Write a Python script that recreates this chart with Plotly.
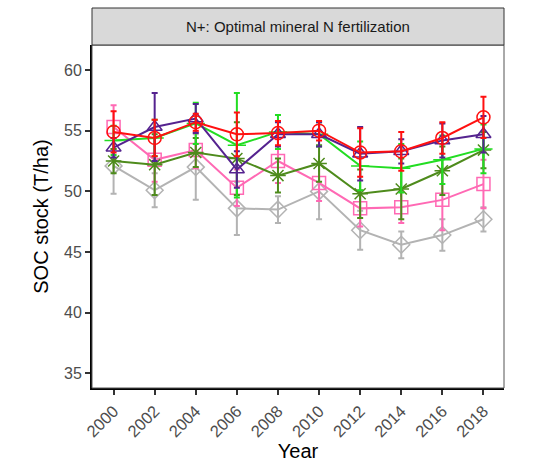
import plotly.graph_objects as go

years = [2000, 2002, 2004, 2006, 2008, 2010, 2012, 2014, 2016, 2018]

red_vals = [54.9, 54.4, 55.7, 54.7, 54.8, 55.0, 53.2, 53.3, 54.4, 56.1]
red_err = [1.7, 1.5, 0.7, 1.8, 1.0, 0.8, 2.0, 1.6, 1.3, 1.7]

purple_vals = [53.6, 55.3, 56.0, 51.8, 54.7, 54.7, 53.1, 53.3, 54.2, 54.7]
purple_err = [0.8, 2.8, 1.2, 1.5, 1.0, 1.0, 2.2, 1.0, 1.4, 1.5]

green_vals = [54.2, 54.4, 55.6, 53.8, 54.9, 54.7, 52.1, 51.9, 52.6, 53.5]
green_err = [1.2, 1.5, 1.7, 4.3, 1.4, 1.0, 2.0, 2.0, 2.0, 2.0]

olive_vals = [52.5, 52.2, 53.2, 52.7, 51.3, 52.3, 49.8, 50.2, 51.7, 53.4]
olive_err = [1.0, 2.5, 1.2, 3.0, 1.4, 1.5, 2.0, 2.5, 2.0, 1.5]

pink_vals = [55.3, 52.6, 53.4, 50.3, 52.5, 50.7, 48.6, 48.7, 49.3, 50.6]
pink_err = [1.8, 1.8, 1.5, 1.5, 1.8, 1.5, 1.5, 1.3, 2.5, 2.0]

grey_vals = [52.1, 50.1, 52.0, 48.6, 48.5, 50.0, 46.8, 45.6, 46.4, 47.7]
grey_err = [2.3, 1.4, 2.7, 2.2, 1.1, 2.3, 1.6, 1.1, 1.3, 1.0]

x_ticks = [2000, 2002, 2004, 2006, 2008, 2010, 2012, 2014, 2016, 2018]
y_ticks = [35, 40, 45, 50, 55, 60]

series = [
    ("grey", grey_vals, grey_err, "#B3B3B3", "diamond-open"),
    ("pink", pink_vals, pink_err, "#FF69B4", "square-open"),
    ("olive", olive_vals, olive_err, "#4E8B1C", "asterisk-open"),
    ("green", green_vals, green_err, "#22DD22", "cross-thin-open"),
    ("purple", purple_vals, purple_err, "#55238F", "triangle-up-open"),
    ("red", red_vals, red_err, "#FF1010", "circle-open"),
]

fig = go.Figure()
for name, vals, err, col, sym in series:
    fig.add_trace(go.Scatter(
        x=years, y=vals, mode="lines+markers", name=name,
        line=dict(color=col, width=2),
        marker=dict(symbol=sym, size=13, color=col, line=dict(color=col, width=1.5)),
        error_y=dict(type="data", array=err, visible=True, color=col, thickness=2, width=3),
        showlegend=False,
    ))

plot_h = 470 - 45 - 82
fig.update_layout(
    width=537, height=470,
    margin=dict(l=92, r=33, t=45, b=82),
    paper_bgcolor="white", plot_bgcolor="white",
    font=dict(family="Liberation Sans, Arial, sans-serif"),
    xaxis=dict(
        range=[1998.95, 2019.0], tickvals=x_ticks, ticktext=[str(t) for t in x_ticks],
        tickangle=-45, tickfont=dict(size=16.5, color="#4D4D4D"),
        ticks="outside", ticklen=5, tickcolor="#333333", tickwidth=1.5,
        showline=True, linecolor="black", linewidth=2, showgrid=False, zeroline=False,
        title=dict(text="Year", font=dict(size=20, color="black"), standoff=2),
    ),
    yaxis=dict(
        range=[33.8, 62.06], tickvals=y_ticks,
        tickfont=dict(size=16, color="#4D4D4D"),
        ticks="outside", ticklen=5, tickcolor="#333333", tickwidth=1.5,
        showline=True, linecolor="black", linewidth=2, showgrid=False, zeroline=False,
        title=dict(text="SOC stock (T/ha)", font=dict(size=20, color="black"), standoff=10),
    ),
    shapes=[
        dict(type="rect", xref="paper", yref="paper", x0=0, x1=1, y0=0, y1=1,
             line=dict(color="#555555", width=1), fillcolor="rgba(0,0,0,0)", layer="above"),
        dict(type="rect", xref="paper", yref="paper", x0=0, x1=1, y0=1, y1=1 + 37 / plot_h,
             line=dict(color="#333333", width=1), fillcolor="#D9D9D9", layer="above"),
    ],
    annotations=[
        dict(text="N+: Optimal mineral N fertilization", xref="paper", yref="paper",
             x=0.5, y=1 + 18.5 / plot_h, showarrow=False,
             font=dict(size=15, color="#1A1A1A"), xanchor="center", yanchor="middle"),
    ],
)

fig.write_html("out.html")
